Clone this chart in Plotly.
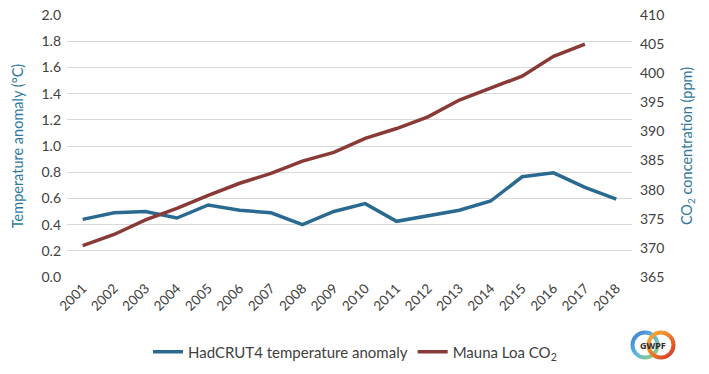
import plotly.graph_objects as go
import base64

years = [str(y) for y in range(2001, 2019)]
temp_anomaly = [0.44, 0.49, 0.50, 0.45, 0.55, 0.51, 0.49, 0.40, 0.50, 0.56,
                0.425, 0.47, 0.51, 0.58, 0.765, 0.795, 0.685, 0.595]
co2_years = [str(y) for y in range(2001, 2018)]
co2_ppm = [370.4, 372.3, 374.8, 376.8, 379.0, 381.1, 382.8, 384.9, 386.4, 388.8,
           390.5, 392.5, 395.4, 397.4, 399.5, 402.9, 405.0]

BLUE = "#2a6a90"
RED = "#893a37"
AXCOL = "#2f78a0"
TXT = "#404040"
FONT = "Lato"

W, H = 709, 374
ML, MR, MT, MB = 67, 77, 15, 97
PW, PH = W - ML - MR, H - MT - MB


def px_to_paper(x, y):
    return (x - ML) / PW, (H - MB - y) / PH


fig = go.Figure()
fig.add_trace(go.Scatter(x=years, y=temp_anomaly, mode="lines",
                         name="HadCRUT4 temperature anomaly",
                         line=dict(color=BLUE, width=3.5)))
fig.add_trace(go.Scatter(x=co2_years, y=co2_ppm, mode="lines",
                         name="Mauna Loa CO<sub>2</sub>", yaxis="y2",
                         line=dict(color=RED, width=3.5)))

fig.update_layout(
    width=W, height=H,
    margin=dict(l=ML, r=MR, t=MT, b=MB, autoexpand=False),
    paper_bgcolor="white", plot_bgcolor="white",
    font=dict(family=FONT, size=14, color=TXT),
    xaxis=dict(type="category", tickangle=-45, showgrid=False, automargin=False,
               tickfont=dict(size=13.5, color=TXT), ticks="", showline=False,
               range=[-0.5, 17.5]),
    yaxis=dict(range=[0, 2.0], dtick=0.2, tickformat=".1f", automargin=False,
               showgrid=True, gridcolor="#d9d9d9", gridwidth=1,
               zeroline=False, showline=False, ticks="", ticklabelstandoff=5,
               tickfont=dict(size=14, color=TXT),
               title=dict(text="Temperature anomaly (°C)",
                          font=dict(size=14.5, color=AXCOL), standoff=14)),
    yaxis2=dict(range=[365, 410], dtick=5, overlaying="y", side="right",
                automargin=False, ticklabelstandoff=7,
                showgrid=False, zeroline=False, showline=False, ticks="",
                tickfont=dict(size=14, color=TXT),
                title=dict(text="CO<sub>2</sub> concentration (ppm)",
                           font=dict(size=14.5, color=AXCOL), standoff=18)),
    legend=dict(orientation="h", x=(355 - ML) / PW, xanchor="center",
                y=px_to_paper(0, 352)[1], yanchor="middle",
                font=dict(size=15, color=TXT), tracegroupgap=0),
    showlegend=True,
)

# GWPF logo (rings as an inline SVG image, letters as real text)
svg = """<svg xmlns='http://www.w3.org/2000/svg' width='46' height='30' viewBox='0 0 46 30'>
<defs>
<linearGradient id='a' x1='0' y1='0' x2='1' y2='1'>
<stop offset='0' stop-color='#3b7fd0'/><stop offset='0.5' stop-color='#5fb6e0'/><stop offset='1' stop-color='#9ccf6a'/></linearGradient>
<linearGradient id='b' x1='0' y1='0' x2='1' y2='1'>
<stop offset='0' stop-color='#f2b23a'/><stop offset='0.5' stop-color='#ee7a2a'/><stop offset='1' stop-color='#d8322a'/></linearGradient>
</defs>
<circle cx='15' cy='15' r='12.5' fill='none' stroke='url(#a)' stroke-width='4'/>
<circle cx='31' cy='15' r='12.5' fill='none' stroke='url(#b)' stroke-width='4'/>
</svg>"""
src = "data:image/svg+xml;base64," + base64.b64encode(svg.encode()).decode()
x0, y0 = px_to_paper(630, 330)
x1, y1 = px_to_paper(676, 360)
fig.add_layout_image(source=src, xref="paper", yref="paper",
                     x=x0, y=y0, sizex=x1 - x0, sizey=y0 - y1,
                     xanchor="left", yanchor="top", sizing="stretch",
                     layer="above")
lx, ly = px_to_paper(653, 345)
fig.add_annotation(xref="paper", yref="paper", x=lx, y=ly,
                   xanchor="center", yanchor="middle",
                   text="<b>GWPF</b>", showarrow=False,
                   font=dict(family="Open Sans", size=9, color="#2b2b2b"))

fig.write_html("out.html", config={"displayModeBar": False},
               post_script="document.body.style.margin='0';"
                           "document.body.style.padding='0';")
